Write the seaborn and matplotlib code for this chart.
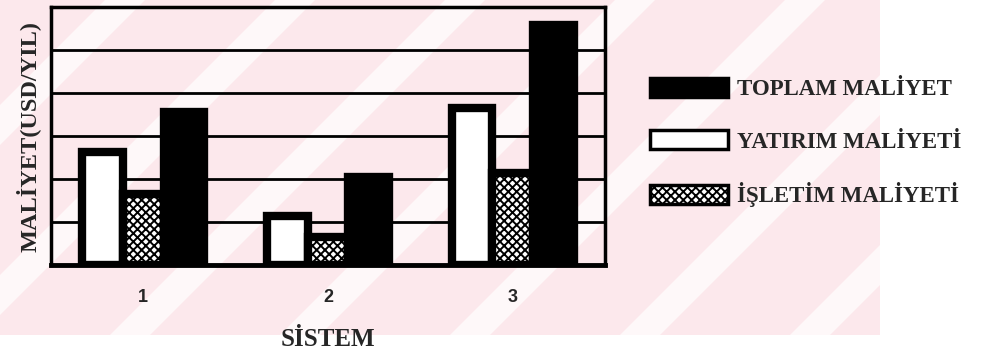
import numpy as np
import pandas as pd
import seaborn as sns
import matplotlib.pyplot as plt
from matplotlib.patches import Patch, Polygon, Rectangle

# ---- data ----
systems = ["1", "2", "3"]
yatirim = [2.63, 1.14, 3.65]
isletim = [1.65, 0.65, 2.14]
toplam = [3.56, 2.05, 5.58]
series = ["YATIRIM MALİYETİ", "İŞLETİM MALİYETİ", "TOPLAM MALİYET"]
legend_order = ["TOPLAM MALİYET", "YATIRIM MALİYETİ", "İŞLETİM MALİYETİ"]

df = pd.DataFrame({
    "SİSTEM": systems * 3,
    "MALİYET": yatirim + isletim + toplam,
    "seri": [s for s in series for _ in systems],
})

sns.set_theme(style="white")
plt.rcParams["font.family"] = ["Liberation Serif", "DejaVu Serif"]
plt.rcParams["hatch.linewidth"] = 1.4

W, H = 1005, 357
fig = plt.figure(figsize=(W / 100, H / 100), dpi=100)
fig.patch.set_facecolor("white")

# watermark-like pink background with white diagonal bands
pink = Rectangle((0, (H - 335) / H), 880 / W, 335 / H, transform=fig.transFigure,
                 facecolor="#fce8ec", edgecolor="none", zorder=-3)
fig.patches.append(pink)
for x0 in range(-400, 1000, 170):
    pts = [(x0, 22), (x0 + 40, 22), (x0 + 40 + 335, 357), (x0 + 335, 357)]
    poly = Polygon([(px / W, py / H) for px, py in pts], closed=True,
                   transform=fig.transFigure, facecolor="white", edgecolor="none",
                   alpha=0.7, zorder=-2)
    poly.set_clip_path(pink)
    fig.patches.append(poly)

ax = fig.add_axes([51 / W, (H - 265) / H, (605 - 51) / W, (265 - 7) / H])
ax.set_facecolor("none")

sns.barplot(data=df, x="SİSTEM", y="MALİYET", hue="seri", hue_order=series,
            order=systems, width=0.66, palette=["white", "white", "black"],
            saturation=1, edgecolor="black", linewidth=6, legend=False, ax=ax)
for bar in ax.containers[1]:
    bar.set_hatch("xxxx")

ax.set_xlim(-0.5, 2.5)
ax.set_ylim(0, 6)
ax.set_yticks([1, 2, 3, 4, 5])
ax.set_yticklabels([])
ax.tick_params(axis="y", length=0)
ax.yaxis.grid(True, color="black", linewidth=2)
ax.set_axisbelow(True)

ax.set_xticks([0, 1, 2])
ax.set_xticklabels(systems, fontfamily="Liberation Sans", fontweight="bold", fontsize=13)
ax.tick_params(axis="x", which="major", length=0, pad=17)
ax.set_xticks([0.5, 1.5], minor=True)
ax.tick_params(axis="x", which="minor", length=9, width=2.2, direction="inout", color="black")

for side, lw in {"left": 2.5, "right": 2.5, "top": 2.5, "bottom": 3.5}.items():
    ax.spines[side].set_visible(True)
    ax.spines[side].set_color("black")
    ax.spines[side].set_linewidth(lw)

ax.set_xlabel("SİSTEM", fontsize=18, fontweight="bold", labelpad=16)
ax.set_ylabel("MALİYET(USD/YIL)", fontsize=17.5, fontweight="bold", labelpad=4)

styles = {
    "TOPLAM MALİYET": dict(facecolor="black", hatch=None),
    "YATIRIM MALİYETİ": dict(facecolor="white", hatch=None),
    "İŞLETİM MALİYETİ": dict(facecolor="white", hatch="xxxx"),
}
handles = [Patch(edgecolor="black", linewidth=2.5, label=s, **styles[s]) for s in legend_order]
fig.legend(handles=handles, loc="upper left", bbox_to_anchor=(650 / W, 1 - 78 / H),
           frameon=False, borderpad=0, borderaxespad=0,
           prop={"family": "Liberation Serif", "weight": "bold", "size": 16.5},
           handlelength=3.4, handleheight=0.9, handletextpad=0.4, labelspacing=1.3)

fig.savefig("out.png", dpi=100, facecolor=fig.get_facecolor())
